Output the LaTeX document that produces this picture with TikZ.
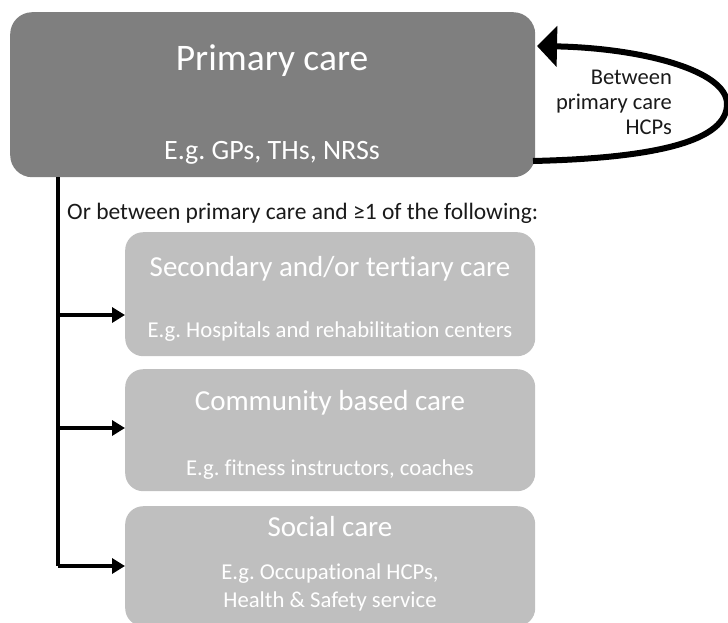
\documentclass[tikz,border=0pt]{standalone}
\usepackage{fontspec}
\setmainfont{Carlito}[Ligatures={NoCommon}]
\usetikzlibrary{arrows.meta}
\definecolor{darkbox}{HTML}{7F7F7F}
\definecolor{lightbox}{HTML}{BFBFBF}
\definecolor{ink}{HTML}{1A1A1A}
\frenchspacing
\begin{document}
\begin{tikzpicture}[x=1pt,y=-1pt,
  carebox/.style={fill=#1,draw=none,rounded corners=18pt,anchor=north west,inner sep=0pt},
  boxtext/.style={text=white,anchor=base,inner sep=0pt},
  heading/.style={boxtext,font=\fontsize{29}{33}\selectfont},
  detail/.style={boxtext,font=\fontsize{22.7}{27}\selectfont},
  link/.style={line width=4pt,-{Triangle[length=13pt,width=15pt]}},
  loop/.style={line width=6pt,-{Triangle[length=20pt,width=40pt]}}]
\useasboundingbox (0,0) rectangle (728,622);
% primary care
\node[carebox=darkbox,rounded corners=22pt,minimum width=525pt,minimum height=165pt] (pc) at (10,12) {};
\node[boxtext,font=\fontsize{37.5}{42}\selectfont] (pct) at (272,70) {Primary care};
\node[boxtext,font=\fontsize{28}{32}\selectfont] (pcs) at (272,159) {E.g. GPs, THs, NRSs};
% loop between primary care professionals
\coordinate (ls) at (533,161);
\coordinate (le) at (537,46);
\draw[loop] (ls) .. controls (660,158) and (727,140) .. (727,104)
  .. controls (727,70) and (640,48) .. (le);
\node[text=ink,align=right,anchor=north east,inner sep=0pt,
  font=\fontsize{22.5}{25}\selectfont] (lt) at (672,70) {Between\\primary care\\HCPs};
% other care settings
\node[text=ink,anchor=base west,inner sep=0pt,font=\fontsize{23.5}{28}\selectfont] (or) at (67,219)
  {Or between primary care and ≥1 of the following:};
\node[carebox=lightbox,minimum width=410pt,minimum height=124pt] (sc) at (125,232) {};
\node[heading] (sct) at (330,276) {Secondary and/or tertiary care};
\node[detail] (scs) at (330,337) {E.g. Hospitals and rehabilitation centers};
\node[carebox=lightbox,minimum width=410pt,minimum height=122pt] (cc) at (125,369) {};
\node[heading] (cct) at (330,410) {Community based care};
\node[detail] (ccs) at (330,475) {E.g. fitness instructors, coaches};
\node[carebox=lightbox,minimum width=410pt,minimum height=120pt] (so) at (125,506) {};
\node[heading] (sot) at (330,536) {Social care};
\node[detail] (sos) at (330,579) {E.g. Occupational HCPs,};
\node[detail] (sos2) at (330,607) {Health \& Safety service};
% connectors
\coordinate (top) at (58,177);
\coordinate (bot) at (58,566);
\draw[line width=4pt] (top) -- (bot);
\draw[link] (58,315) -- (sc.west |- 0,315);
\draw[link] (58,428) -- (cc.west |- 0,428);
\draw[link] (bot) -- (so.west |- 0,566);
\end{tikzpicture}
\end{document}
